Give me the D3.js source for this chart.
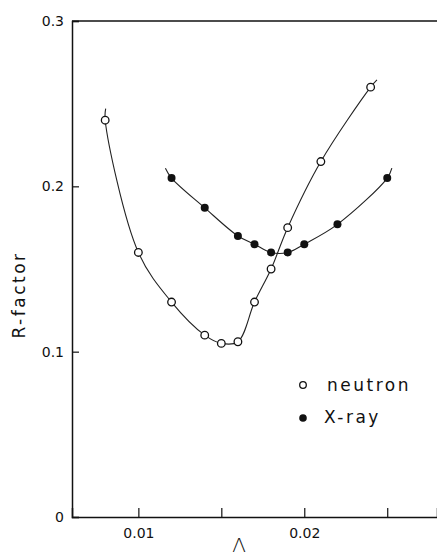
<!DOCTYPE html>
<html>
<head>
<meta charset="utf-8">
<script src="https://cdn.jsdelivr.net/npm/d3@7"></script>
<style>
body { margin: 0; background: #fff; }
text { font-family: "DejaVu Sans", sans-serif; fill: #111; }
</style>
</head>
<body>
<svg id="chart" width="437" height="559"></svg>
<script>

// data
var neutronX = [0.008, 0.010, 0.012, 0.014, 0.015, 0.016, 0.017, 0.018, 0.019, 0.021, 0.024];
var neutronR = [0.240, 0.160, 0.130, 0.110, 0.105, 0.106, 0.130, 0.150, 0.175, 0.215, 0.260];
var xrayX = [0.012, 0.014, 0.016, 0.017, 0.018, 0.019, 0.020, 0.022, 0.025];
var xrayR = [0.205, 0.187, 0.170, 0.165, 0.160, 0.160, 0.165, 0.177, 0.205];
// where the drawn fit curves stop beyond the first / last points
var neutronFitEnds = [[0.00803, 0.247], [0.02438, 0.2644]];
var xrayFitEnds = [[0.01163, 0.211], [0.02528, 0.211]];
var xTicks = [0.01, 0.015, 0.02, 0.025];
var xTickLabels = ['0.01', '', '0.02', ''];
var yTicks = [0, 0.1, 0.2, 0.3];
var yTickLabels = ['0', '0.1', '0.2', '0.3'];

var svg = d3.select('#chart');

var x = d3.scaleLinear().domain([0.006, 0.028]).range([72, 437]);
var y = d3.scaleLinear().domain([0, 0.3]).range([517, 21]);

// frame: top line + left and bottom axes
svg.append('line')
  .attr('x1', x.range()[0]).attr('x2', 437)
  .attr('y1', y(0.3)).attr('y2', y(0.3))
  .attr('stroke', '#111').attr('stroke-width', 1.5);

var xAxis = d3.axisBottom(x)
  .tickValues(xTicks)
  .tickFormat(function(d, i) { return xTickLabels[i]; })
  .tickSize(-9)
  .tickPadding(11);
var gx = svg.append('g')
  .attr('transform', 'translate(0,' + y(0) + ')')
  .call(xAxis);
gx.select('.domain').attr('stroke', '#111').attr('stroke-width', 1.5);
gx.selectAll('.tick line').attr('stroke', '#111').attr('stroke-width', 1.2);
gx.selectAll('.tick text').style('font-size', '14px').attr('fill', '#111');

var yAxis = d3.axisLeft(y)
  .tickValues(yTicks)
  .tickFormat(function(d, i) { return yTickLabels[i]; })
  .tickSize(-7)
  .tickPadding(8);
var gy = svg.append('g')
  .attr('transform', 'translate(' + x.range()[0] + ',0)')
  .call(yAxis);
gy.select('.domain').attr('stroke', '#111').attr('stroke-width', 1.5);
gy.selectAll('.tick line').attr('stroke', '#111').attr('stroke-width', 1.2);
gy.selectAll('.tick text').style('font-size', '14px').attr('fill', '#111');

// axis titles
svg.append('text')
  .attr('transform', 'translate(25,295) rotate(-90)')
  .attr('text-anchor', 'middle')
  .style('font-size', '17px')
  .style('letter-spacing', '2.5px')
  .text('R-factor');

svg.append('text')
  .attr('x', 239).attr('y', 552)
  .attr('text-anchor', 'middle')
  .style('font-size', '20px')
  .style('font-weight', '200')
  .text('\u039B');

// fit curves
var line = d3.line()
  .x(function(d) { return x(d[0]); })
  .y(function(d) { return y(d[1]); })
  .curve(d3.curveCatmullRom.alpha(0.5));

function pts(xs, rs, ends) {
  var p = xs.map(function(v, i) { return [v, rs[i]]; });
  return [ends[0]].concat(p, [ends[1]]);
}

svg.append('path')
  .attr('d', line(pts(neutronX, neutronR, neutronFitEnds)))
  .attr('fill', 'none').attr('stroke', '#222').attr('stroke-width', 1.1);
svg.append('path')
  .attr('d', line(pts(xrayX, xrayR, xrayFitEnds)))
  .attr('fill', 'none').attr('stroke', '#222').attr('stroke-width', 1.1);

// points
svg.selectAll('.xray')
  .data(xrayX)
  .enter().append('circle')
  .attr('class', 'xray')
  .attr('cx', function(d) { return x(d); })
  .attr('cy', function(d, i) { return y(xrayR[i]); })
  .attr('r', 4)
  .attr('fill', '#111');

svg.selectAll('.neutron')
  .data(neutronX)
  .enter().append('circle')
  .attr('class', 'neutron')
  .attr('cx', function(d) { return x(d); })
  .attr('cy', function(d, i) { return y(neutronR[i]); })
  .attr('r', 3.8)
  .attr('fill', '#fff')
  .attr('stroke', '#111')
  .attr('stroke-width', 1.3);

// legend
var legend = svg.append('g');
legend.append('circle')
  .attr('cx', 303).attr('cy', 385).attr('r', 3.3)
  .attr('fill', '#fff').attr('stroke', '#111').attr('stroke-width', 1.3);
legend.append('text')
  .attr('x', 327).attr('y', 391)
  .style('font-size', '17px').style('letter-spacing', '2.5px')
  .text('neutron');
legend.append('circle')
  .attr('cx', 303).attr('cy', 418).attr('r', 3.8)
  .attr('fill', '#111');
legend.append('text')
  .attr('x', 324).attr('y', 423)
  .style('font-size', '17px').style('letter-spacing', '2.5px')
  .text('X-ray');

</script>
</body>
</html>
